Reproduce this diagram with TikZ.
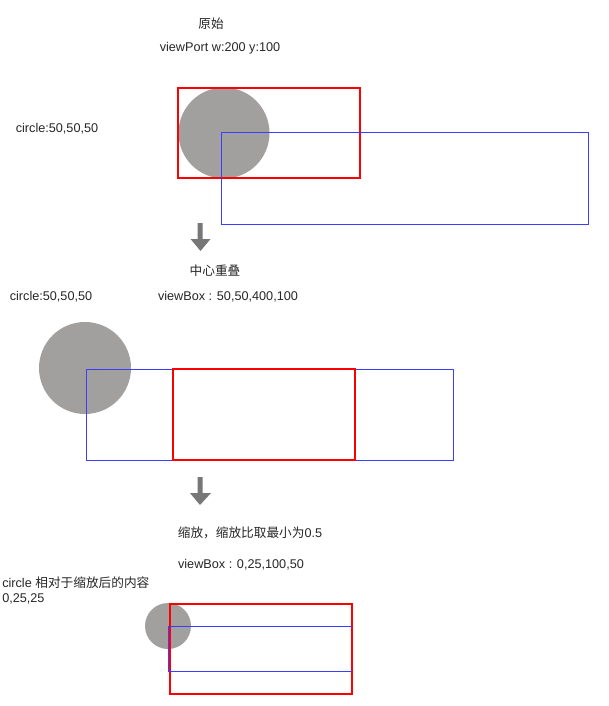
\documentclass[tikz,border=0pt]{standalone}
\usepackage{fontspec}
\setmainfont{Liberation Sans}
\newfontfamily\cjk{Noto Sans CJK SC}
\definecolor{cgray}{HTML}{A29F9F}
\definecolor{rbox}{HTML}{FF0000}
\definecolor{bbox}{HTML}{3D3DFF}
\definecolor{agray}{HTML}{777777}
\begin{document}
\begin{tikzpicture}[x=0.75pt,y=-0.75pt,
  lbl/.style={inner sep=0pt,font=\fontsize{9.5pt}{11pt}\selectfont,text=black!85},
  redbox/.style={draw=rbox,line width=1.5pt},
  bluebox/.style={draw=bbox,line width=0.75pt},
  disc/.style={fill=cgray,draw=none},
  blockarrow/.style={fill=agray,draw=none}]
\useasboundingbox (0,0) rectangle (608,706);
% section 1
\node[lbl] (t1) at (211,24) {\cjk 原始};
\node[lbl] (t2) at (220,48) {viewPort w:200 y:100};
\node[lbl] (t3) at (57,129) {circle:50,50,50};
\fill[disc] (224,133) circle[radius=45.5];
\draw[redbox] (178,88) rectangle (360,178);
\draw[bluebox] (221,133) rectangle (588,224);
% arrow 1
\fill[blockarrow] (197.5,223) -- (202.5,223) -- (202.5,239) -- (210.5,239) -- (200.5,251) -- (190.5,239) -- (197.5,239) -- cycle;
% section 2
\node[lbl] (t4) at (215,271) {\cjk 中心重叠};
\node[lbl] (t5) at (51,297) {circle:50,50,50};
\node[lbl] (t6) at (228,297) {viewBox : 50,50,400,100};
\fill[disc] (85,368) circle[radius=46];
\draw[bluebox] (86,369) rectangle (453,460);
\draw[redbox] (173,369) rectangle (355,460);
% arrow 2
\fill[blockarrow] (197.5,477) -- (202.5,477) -- (202.5,493) -- (211,493) -- (200,505) -- (190,493) -- (197.5,493) -- cycle;
% section 3
\node[lbl] (t7) at (250,533) {{\cjk 缩放，缩放比取最小为}0.5};
\node[lbl] (t8) at (241,565) {viewBox : 0,25,100,50};
\node[lbl,anchor=west] (t9) at (2,583) {circle {\cjk 相对于缩放后的内容}};
\node[lbl,anchor=west] (t10) at (2,599) {0,25,25};
\fill[disc] (168,626) circle[radius=23];
\draw[redbox] (170,604) rectangle (352,694);
\draw[bluebox] (168.5,626) -- (352,626);
\draw[bluebox] (168.5,626) -- (168.5,671) -- (352,671);
\end{tikzpicture}
\end{document}
